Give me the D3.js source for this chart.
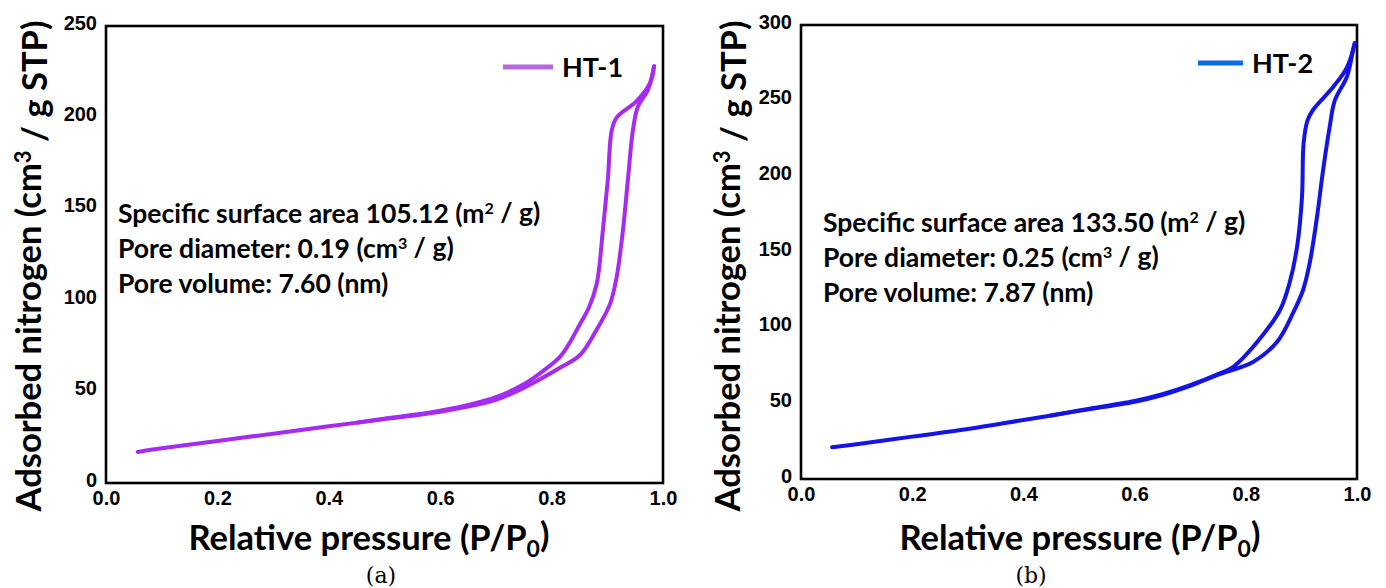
<!DOCTYPE html>
<html><head><meta charset="utf-8">
<script src="https://cdn.jsdelivr.net/npm/d3@7"></script>
<style>body{margin:0;background:#fff}</style>
</head><body><svg id="c" width="1386" height="588" xmlns="http://www.w3.org/2000/svg"></svg>
<script>
// ---------- data ----------
const xTicks = [0.0, 0.2, 0.4, 0.6, 0.8, 1.0];
const yTicksA = [0, 50, 100, 150, 200, 250];
const yTicksB = [0, 50, 100, 150, 200, 250, 300];

// HT-1 adsorption branch (low -> high pressure)
const ht1AdsX = [0.057,0.1,0.2,0.3,0.4,0.5,0.6,0.7,0.75,0.815,0.851,0.881,0.905,0.917,0.928,0.937,0.946,0.955,0.973,0.984];
const ht1AdsY = [17,19,23,27,31,35,39,45.5,52,63,70,84,98,113,138,166,193,206,215,228];
// HT-1 desorption branch (high -> low pressure)
const ht1DesX = [0.984,0.977,0.953,0.917,0.908,0.901,0.892,0.881,0.867,0.851,0.833,0.815,0.779,0.75,0.7,0.6,0.5,0.45];
const ht1DesY = [228,219,209,200,193,166,138,109,96,87,77,69,60,54,47,39.5,35.2,33];

// HT-2 adsorption branch
const ht2AdsX = [0.056,0.1,0.2,0.3,0.4,0.5,0.6,0.65,0.7,0.748,0.813,0.856,0.885,0.903,0.915,0.928,0.939,0.951,0.960,0.982,0.993,0.996];
const ht2AdsY = [21,23,28,33,39,45,51,55.5,61.5,68.7,77.3,90.5,109.7,124.9,142.8,173,204,233,250,266,283.5,288];
// HT-2 desorption branch
const ht2DesX = [0.996,0.982,0.957,0.921,0.911,0.904,0.901,0.892,0.879,0.862,0.826,0.777,0.748,0.7,0.65,0.6,0.5,0.45];
const ht2DesY = [288,272,259,244,237,222,186,153,130,112,93,74,69,62,56,51.5,45.3,42];

const seriesNames = ["HT-1", "HT-2"];
const infoA = [["Specific surface area 105.12 (m","2"," / g)"],["Pore diameter: 0.19 (cm","3"," / g)"],["Pore volume: 7.60 (nm)","",""]];
const infoB = [["Specific surface area 133.50 (m","2"," / g)"],["Pore diameter: 0.25 (cm","3"," / g)"],["Pore volume: 7.87 (nm)","",""]];
const captions = ["(a)", "(b)"];

// ---------- drawing ----------
const svg = d3.select("#c");
const TICKFONT = "'Liberation Sans', Arial, sans-serif";
const TITLEFONT = "Lato, 'Open Sans', sans-serif";

function panel(cfg) {
  const x = d3.scaleLinear().domain([0, 1]).range([cfg.x0, cfg.x1]);
  const y = d3.scaleLinear().domain([0, cfg.ymax]).range([cfg.y0, cfg.y1]);
  const g = svg.append("g");

  // y tick labels
  const ya = d3.axisLeft(y).tickValues(cfg.yTicks).tickSize(0).tickPadding(9).tickFormat(d3.format("d"));
  const yg = g.append("g").attr("transform", `translate(${cfg.x0},0)`).call(ya);
  yg.select(".domain").remove();
  yg.selectAll("text").attr("font-family", TICKFONT).attr("font-weight", "bold")
    .attr("font-size", 20).attr("fill", "#000").attr("dy", "0.15em");

  // x tick labels
  const xa = d3.axisBottom(x).tickValues(xTicks).tickSize(0).tickPadding(8).tickFormat(d3.format(".1f"));
  const xg = g.append("g").attr("transform", `translate(0,${cfg.y0})`).call(xa);
  xg.select(".domain").remove();
  xg.selectAll("text").attr("font-family", TICKFONT).attr("font-weight", "bold")
    .attr("font-size", 20).attr("fill", "#000");

  // frame
  g.append("rect").attr("x", cfg.x0).attr("y", cfg.y1)
    .attr("width", cfg.x1 - cfg.x0).attr("height", cfg.y0 - cfg.y1)
    .attr("fill", "none").attr("stroke", "#000").attr("stroke-width", 2.6);

  // curves
  const line = d3.line().x(d => x(d[0])).y(d => y(d[1])).curve(d3.curveCatmullRom.alpha(0.5));
  const ads = cfg.adsX.map((v, i) => [v, cfg.adsY[i]]);
  const des = cfg.desX.map((v, i) => [v, cfg.desY[i]]);
  [ads, des].forEach(pts => {
    g.append("path").datum(pts).attr("d", line).attr("fill", "none")
      .attr("stroke", cfg.color).attr("stroke-width", 4)
      .attr("stroke-linejoin", "round").attr("stroke-linecap", "round");
  });

  // legend
  g.append("line").attr("x1", cfg.legX).attr("x2", cfg.legX + cfg.legW)
    .attr("y1", cfg.legY).attr("y2", cfg.legY)
    .attr("stroke", cfg.legColor).attr("stroke-width", 5);
  g.append("text").attr("x", cfg.legX + cfg.legW + 9).attr("y", cfg.legY).attr("dy", "0.36em")
    .attr("font-family", TITLEFONT).attr("font-weight", "bold").attr("font-size", 27)
    .text(cfg.name);

  // info text
  cfg.info.forEach((ln, i) => {
    const t = g.append("text").attr("x", cfg.infoX).attr("y", cfg.infoY + i * 35).attr("dy", "0.36em")
      .attr("font-family", TITLEFONT).attr("font-weight", "bold").attr("font-size", 26.5).attr("fill", "#000");
    t.append("tspan").text(ln[0]);
    if (ln[1]) {
      t.append("tspan").attr("dy", "-0.55em").attr("font-size", 16).text(ln[1]);
      t.append("tspan").attr("dy", "0.33em").text(ln[2]);
    }
  });

  // x title
  const xt = g.append("text").attr("x", cfg.xtX).attr("y", cfg.xtY).attr("text-anchor", "middle")
    .attr("font-family", TITLEFONT).attr("font-weight", "bold").attr("font-size", 34.5).attr("fill", "#000");
  xt.append("tspan").text("Relative pressure (P/P");
  xt.append("tspan").attr("dy", "0.3em").attr("font-size", 23).text("0");
  xt.append("tspan").attr("dy", "-0.3em").text(")");

  // y title
  const yt = g.append("text").attr("transform", `translate(${cfg.ytX},${cfg.ytY}) rotate(-90)`)
    .attr("text-anchor", "middle").attr("font-family", TITLEFONT).attr("font-weight", "bold")
    .attr("font-size", 34.5).attr("fill", "#000");
  yt.append("tspan").text("Adsorbed nitrogen (cm");
  yt.append("tspan").attr("dy", "-0.45em").attr("font-size", 22).text("3");
  yt.append("tspan").attr("dy", "0.45em").text(" / g STP)");

  // caption
  g.append("text").attr("x", cfg.capX).attr("y", 583).attr("text-anchor", "middle")
    .attr("font-family", "'DejaVu Serif', 'Liberation Serif', serif").attr("font-size", 22)
    .text(cfg.caption);
}

panel({x0:106, x1:663, y0:483, y1:26, ymax:250, yTicks:yTicksA,
  adsX:ht1AdsX, adsY:ht1AdsY, desX:ht1DesX, desY:ht1DesY,
  color:"#a52af2", legColor:"#b46ad8", name:seriesNames[0], legX:503, legW:50, legY:67,
  info:infoA, infoX:118, infoY:213, xtX:369, xtY:550, ytX:41, ytY:266, capX:381, caption:captions[0]});

panel({x0:801, x1:1357, y0:479, y1:25, ymax:300, yTicks:yTicksB,
  adsX:ht2AdsX, adsY:ht2AdsY, desX:ht2DesX, desY:ht2DesY,
  color:"#1414e6", legColor:"#0a6ae8", name:seriesNames[1], legX:1198, legW:45, legY:63,
  info:infoB, infoX:823, infoY:222, xtX:1080, xtY:550, ytX:740, ytY:266, capX:1031, caption:captions[1]});
</script>
</body></html>
